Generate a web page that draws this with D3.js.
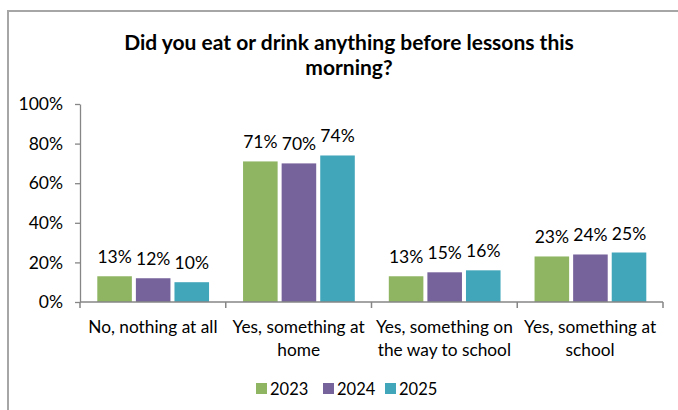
<!DOCTYPE html>
<html><head><meta charset="utf-8">
<script src="https://cdn.jsdelivr.net/npm/d3@7"></script>
<style>
html,body{margin:0;padding:0;background:#fff;}
svg{display:block;font-family:Lato,"Open Sans",sans-serif;}
</style></head>
<body><svg id="c" width="678" height="410"></svg>
<script>
const categories = [["No, nothing at all"],["Yes, something at","home"],["Yes, something on","the way to school"],["Yes, something at","school"]];
const seriesNames = ["2023","2024","2025"];
const v2023 = [13,71,13,23];
const v2024 = [12,70,15,24];
const v2025 = [10,74,16,25];
const yTicks = [0,20,40,60,80,100];
const colors = ["#8fb563","#77639c","#42a6bb"];
const titleLines = ["Did you eat or drink anything before lessons this","morning?"];

const series = [v2023,v2024,v2025];
const svg = d3.select("#c");
// frame
svg.append("path").attr("d","M8,410 V11 H678").attr("fill","none").attr("stroke","#a6a6a6").attr("stroke-width",2);

const x0 = d3.scaleBand().domain(d3.range(categories.length)).range([80,663]).paddingInner(0).paddingOuter(0);
const inner = d3.scaleBand().domain(d3.range(series.length)).range([17.3, x0.bandwidth()-16.7]).paddingInner(0.104);
const y = d3.scaleLinear().domain([0,100]).range([302,104]);

// title
svg.append("text").attr("text-anchor","middle").attr("font-weight","bold").attr("font-size",21).attr("fill","#000")
  .selectAll("tspan").data(titleLines).join("tspan").attr("x",349).attr("y",(d,i)=>50+i*25).text(d=>d);

// y axis
const yAxis = d3.axisLeft(y).tickValues(yTicks).tickFormat(d=>d+"%").tickSize(5).tickSizeOuter(0);
const gy = svg.append("g").attr("transform","translate(80,0)").call(yAxis);
gy.select(".domain").attr("stroke","#868686").attr("stroke-width",1.3);
gy.selectAll(".tick line").attr("stroke","#868686").attr("stroke-width",1.3);
gy.selectAll(".tick text").attr("font-family","Lato").attr("font-size",17.5).attr("fill","#000").attr("x",-17);

// bars
series.forEach((vals,s)=>{
  svg.append("g").selectAll("rect").data(vals).join("rect")
    .attr("x",(d,i)=>x0(i)+inner(s)).attr("width",inner.bandwidth())
    .attr("y",d=>y(d)).attr("height",d=>y(0)-y(d)).attr("fill",colors[s]);
  svg.append("g").selectAll("text").data(vals).join("text")
    .attr("x",(d,i)=>x0(i)+inner(s)+inner.bandwidth()/2).attr("y",d=>y(d)-13)
    .attr("text-anchor","middle").attr("font-size",17.5).attr("fill","#000").text(d=>d+"%");
});

// x axis
const gx = svg.append("g").attr("transform","translate(0,302)");
gx.append("line").attr("x1",80).attr("x2",663).attr("stroke","#868686").attr("stroke-width",1.5);
const bounds = d3.range(categories.length+1).map(i=> i<categories.length ? x0(i) : x0(i-1)+x0.bandwidth());
gx.selectAll("line.t").data(bounds).join("line").attr("class","t")
  .attr("x1",d=>d).attr("x2",d=>d).attr("y1",0).attr("y2",6).attr("stroke","#868686").attr("stroke-width",1.5);
gx.selectAll("text").data(categories).join("text").attr("text-anchor","middle").attr("font-size",17.3).attr("fill","#000")
  .each(function(lines,i){
    d3.select(this).selectAll("tspan").data(lines).join("tspan")
      .attr("x",x0(i)+x0.bandwidth()/2).attr("y",(d,j)=>31+j*23).text(d=>d);
  });

// legend
const legX = [256,323,385];
const lg = svg.append("g");
seriesNames.forEach((n,i)=>{
  lg.append("rect").attr("x",legX[i]).attr("y",383).attr("width",11).attr("height",11).attr("fill",colors[i]);
  lg.append("text").attr("x",legX[i]+14).attr("y",394.5).attr("font-size",16.5).attr("fill","#000").text(n);
});
</script></body></html>
